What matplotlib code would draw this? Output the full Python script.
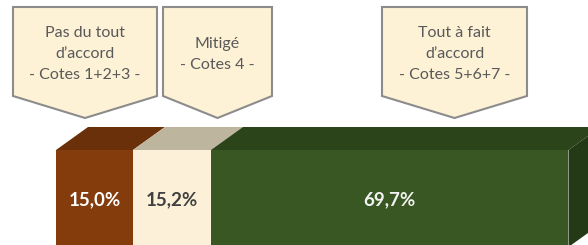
import matplotlib
matplotlib.use("Agg")
import matplotlib.pyplot as plt
from matplotlib.patches import Polygon
import numpy as np

# ---- data ----
categories = ["Pas du tout d'accord", "Mitigé", "Tout à fait d'accord"]
values = [15.0, 15.2, 69.7]
value_labels = ["15,0%", "15,2%", "69,7%"]
callout_texts = [
    ["Pas du tout", "d\u2019accord", "- Cotes 1+2+3 -"],
    ["Mitigé", "- Cotes 4 -"],
    ["Tout à fait", "d\u2019accord", "- Cotes 5+6+7 -"],
]

# ---- style ----
front_colors = ["#843C0C", "#FCF1D8", "#385723"]
top_colors = ["#6A3009", "#BDB59D", "#2C4419"]
side_color = "#243915"
label_colors = ["#FFFFFF", "#404040", "#F2F2F2"]
box_fill = "#FDF1D6"
box_edge = "#8C8C8C"
text_color = "#595959"
FONT = ["Lato", "DejaVu Sans"]

W, H = 588, 245
fig = plt.figure(figsize=(W / 100, H / 100), dpi=100)
ax = fig.add_axes([0, 0, 1, 1])
ax.axis("off")

x0_px, x1_px = 56, 569          # bar front extent in pixels
S = (x1_px - x0_px) / 100.0     # pixels per percent
ax.set_xlim(-x0_px / S, (W - x0_px) / S)
ax.set_ylim(H, 0)

def px(xp):
    return (xp - x0_px) / S

front_top, front_bot = 150, 247
dx, dy = 32 / S, 23

lefts = np.concatenate([[0], np.cumsum(values)[:-1]])
ax.barh((front_top + front_bot) / 2, values, left=lefts,
        height=front_bot - front_top, color=front_colors, linewidth=0, zorder=2)

for l, w, c in zip(lefts, values, top_colors):
    ax.add_patch(Polygon([(l, front_top), (l + w, front_top),
                          (l + w + dx, front_top - dy), (l + dx, front_top - dy)],
                         closed=True, facecolor=c, edgecolor="none", zorder=2))
R = lefts[-1] + values[-1]
ax.add_patch(Polygon([(R, front_top), (R + dx, front_top - dy),
                      (R + dx, front_bot - dy), (R, front_bot)],
                     closed=True, facecolor=side_color, edgecolor="none", zorder=2))

label_y = 200
for l, w, t, c in zip(lefts, values, value_labels, label_colors):
    ax.text(l + w / 2, label_y, t, ha="center", va="center", color=c,
            fontsize=13.5, fontweight="bold", family=FONT, zorder=3)

# callouts (pixel layout)
boxes = [(13, 157), (163, 272), (382, 527)]
box_top, body_bot, tip_y = 7, 96, 118
line_ys = [[33, 54, 75], [44, 65], [33, 54, 75]]
for (bl, br), lines, ys in zip(boxes, callout_texts, line_ys):
    cx = (bl + br) / 2
    pts = [(px(bl), box_top), (px(br), box_top), (px(br), body_bot),
           (px(cx), tip_y), (px(bl), body_bot)]
    ax.add_patch(Polygon(pts, closed=True, facecolor=box_fill,
                         edgecolor=box_edge, linewidth=1.5, zorder=1,
                         joinstyle="miter"))
    for t, y in zip(lines, ys):
        ax.text(px(cx), y, t, ha="center", va="center", color=text_color,
                fontsize=11.5, family=FONT, zorder=3)

fig.savefig("out.png", dpi=100)
